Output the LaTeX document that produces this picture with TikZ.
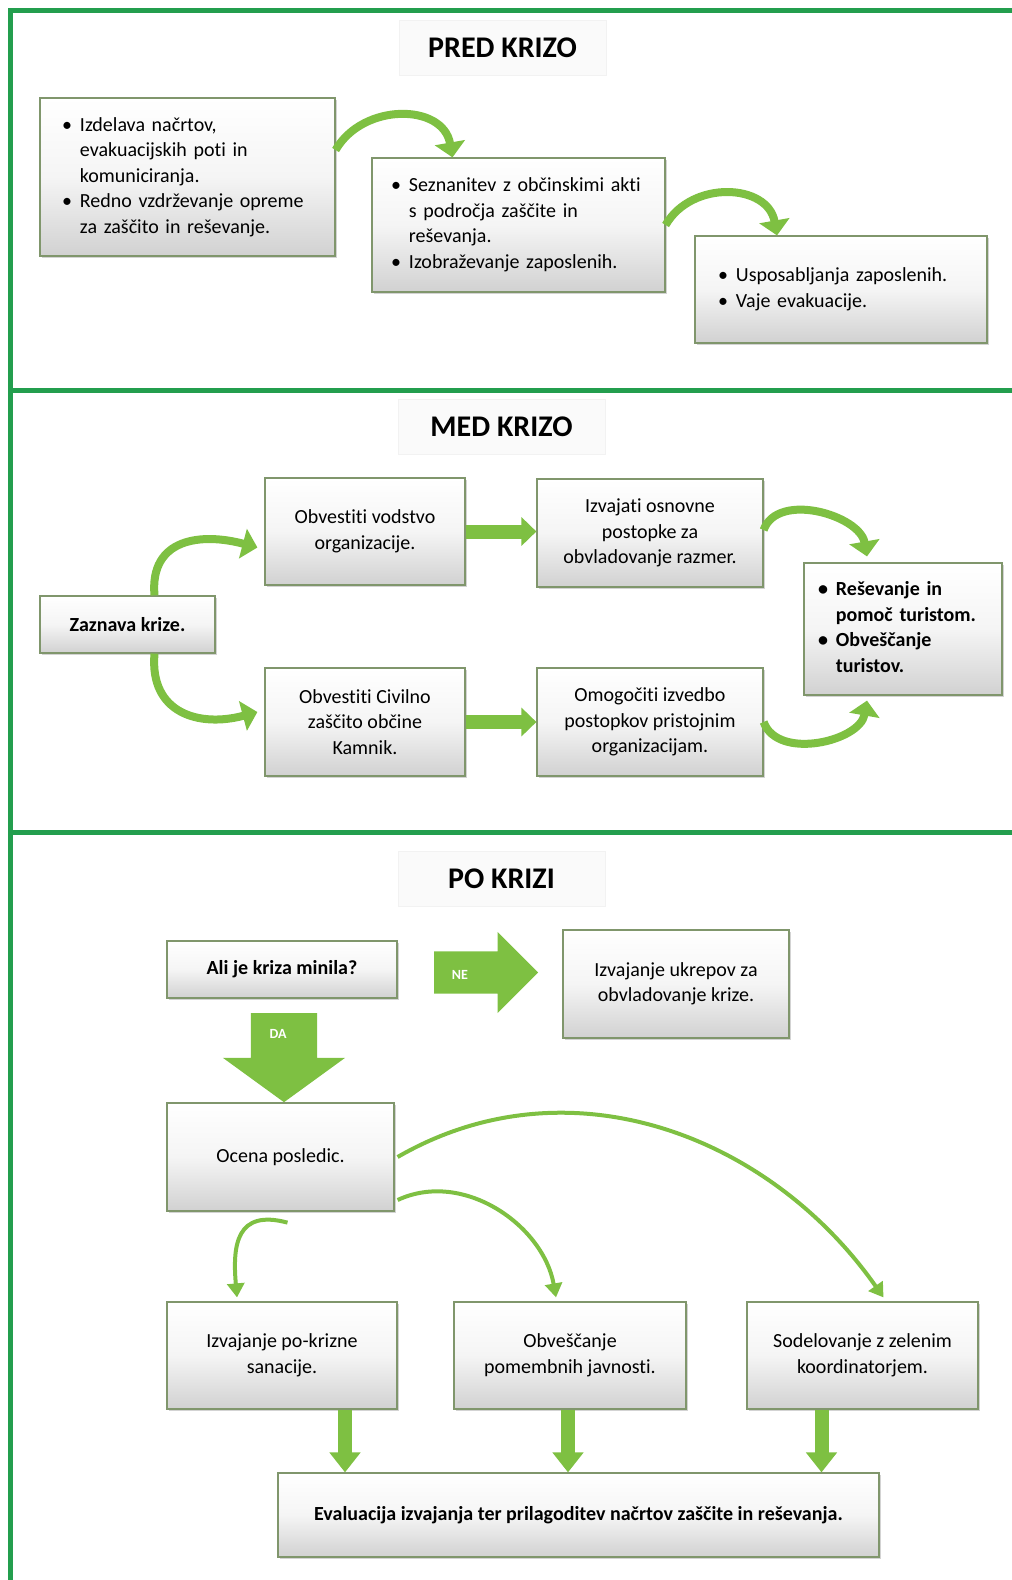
\documentclass[tikz,border=0pt]{standalone}
\usepackage{fontspec}
\setmainfont{Carlito}[Ligatures=NoCommon]
\usetikzlibrary{calc,positioning,arrows.meta,shapes.arrows,shadows}

\definecolor{framegreen}{RGB}{35,158,78}
\definecolor{arrowgreen}{RGB}{126,192,66}
\definecolor{boxedge}{RGB}{128,150,108}

\newcommand{\blist}[1]{\begin{tabular}{@{}l@{\hspace{8pt}}l@{}}#1\end{tabular}}

\begin{document}
\begin{tikzpicture}[x=1pt,y=-1pt,font=\fontsize{20}{25.5}\selectfont]

\tikzset{box/.style={draw=boxedge,line width=1.2pt,top color=white,bottom color=black!18,middle color=black!4,drop shadow={shadow xshift=1.5pt,shadow yshift=-2pt,opacity=.35},inner sep=0pt,align=center},
bulletbox/.style={box,align=left},
titlebox/.style={fill=black!2,draw=black!5,minimum width=207pt,minimum height=55pt,font=\fontsize{30}{36}\selectfont\bfseries},
frame/.style={framegreen,line width=5pt},
bigarrow/.style={arrowgreen,line width=8pt,-{Triangle[length=15pt,width=30pt]}},
fatarrow/.style={arrowgreen,line width=14pt,-{Triangle[length=15pt,width=28pt]}},
thinarrow/.style={arrowgreen,line width=4pt,-{Triangle[length=14pt,width=17pt]}},
blockarrow/.style={single arrow,fill=arrowgreen,inner xsep=0pt,single arrow tip angle=90,anchor=tail},
arrowtext/.style={text=white,font=\fontsize{14}{16}\selectfont\bfseries}}

\useasboundingbox (0,0) rectangle (1012,1580);

% Frame
\draw[frame] (10,1580) -- (10,10) -- (1012,10);
\draw[frame] (10,390) -- (1012,390);
\draw[frame] (10,832) -- (1012,832);

% Pred krizo
\node[titlebox] (t1) at (502.5,47.5) {PRED KRIZO};
\node[bulletbox,text width=251pt,inner xsep=22pt,minimum height=158pt] (a1) at (187.5,177) {\blist{\textbullet & Izdelava načrtov,\\ & evakuacijskih poti in\\ & komuniciranja.\\ \textbullet & Redno vzdrževanje opreme\\ & za zaščito in reševanje.}};
\node[bulletbox,text width=255pt,inner xsep=19pt,minimum height=134pt] (a2) at (518.5,225) {\blist{\textbullet & Seznanitev z občinskimi akti\\ & s področja zaščite in\\ & reševanja.\\ \textbullet & Izobraževanje zaposlenih.}};
\node[bulletbox,text width=246pt,inner xsep=23pt,minimum height=107pt] (a3) at (841,289.5) {\blist{\textbullet & Usposabljanja zaposlenih.\\ \textbullet & Vaje evakuacije.}};

\draw[bigarrow] ([yshift=27pt]a1.east) to[out=60,in=100,looseness=1.2] ([xshift=-66pt]a2.north);
\draw[bigarrow] (a2.east) to[out=60,in=100,looseness=1.2] ([xshift=-64pt]a3.north);

% Med krizo
\node[titlebox] (t2) at (501.5,426.5) {MED KRIZO};
\node[box,minimum width=175pt,minimum height=57pt,font=\fontsize{20}{25.5}\selectfont\bfseries] (m0) at (127.5,624.5) {Zaznava krize.};
\node[box,minimum width=200pt,minimum height=107pt] (m1) at (365,531.5) {Obvestiti vodstvo\\organizacije.};
\node[box,minimum width=200pt,minimum height=108pt] (m2) at (365,722) {Obvestiti Civilno\\zaščito občine\\Kamnik.};
\node[box,minimum width=226pt,minimum height=108pt] (m3) at (650,533) {Izvajati osnovne\\postopke za\\obvladovanje razmer.};
\node[box,minimum width=226pt,minimum height=108pt] (m4) at (650,722) {Omogočiti izvedbo\\postopkov pristojnim\\organizacijam.};
\node[bulletbox,text width=170pt,inner xsep=14pt,minimum height=132pt,font=\fontsize{20}{25.5}\selectfont\bfseries] (m5) at (903,629) {\blist{\textbullet & Reševanje in\\ & pomoč turistom.\\ \textbullet & Obveščanje\\ & turistov.}};

\draw[bigarrow] ([xshift=27pt]m0.north) to[out=95,in=165,looseness=1.3] ([xshift=-7pt,yshift=-16pt]m1.west);
\draw[bigarrow] ([xshift=27pt]m0.south) to[out=-95,in=195,looseness=1.3] ([xshift=-7pt,yshift=10pt]m2.west);
\draw[fatarrow] (m1.east) -- (m1.east -| m3.west); \draw[fatarrow] (m2.east) -- (m2.east -| m4.west);
\draw[bigarrow] ([yshift=3pt]m3.east) to[out=70,in=100] ([xshift=-36pt,yshift=6pt]m5.north);
\draw[bigarrow] (m4.east) to[out=-70,in=-100] ([xshift=-36pt,yshift=-5pt]m5.south);

% Po krizi
\node[titlebox] (t3) at (501.5,878.5) {PO KRIZI};
\node[box,minimum width=230pt,minimum height=57pt,font=\fontsize{20}{25.5}\selectfont\bfseries] (p0) at (282,969.5) {Ali je kriza minila?};
\node[box,minimum width=226pt,minimum height=108pt] (p1) at (676,984) {Izvajanje ukrepov za\\obvladovanje krize.};
\node[box,minimum width=227pt,minimum height=108pt] (p2) at (280.5,1157) {Ocena posledic.};
\node[box,minimum width=230pt,minimum height=107pt] (p3) at (282,1355.5) {Izvajanje po-krizne\\sanacije.};
\node[box,minimum width=232pt,minimum height=107pt] (p4) at (570,1355.5) {Obveščanje\\pomembnih javnosti.};
\node[box,minimum width=231pt,minimum height=107pt] (p5) at (862.5,1355.5) {Sodelovanje z zelenim\\koordinatorjem.};
\node[box,minimum width=601pt,minimum height=84pt,font=\fontsize{20}{25.5}\selectfont\bfseries] (p6) at (578.5,1515) {Evaluacija izvajanja ter prilagoditev načrtov zaščite in reševanja.};

% Block arrows
\node[blockarrow,minimum height=104pt,inner ysep=21pt,single arrow head extend=19.5pt] (ne) at (434,972.5) {};
\node[blockarrow,rotate=-90,minimum height=89pt,inner ysep=33pt,single arrow head extend=28pt,single arrow tip angle=108] (da) at (284,1013) {};
\node[arrowtext] (nelbl) at (460,975) {NE};
\node[arrowtext] (dalbl) at (278,1034) {DA};

\draw[thinarrow] ([xshift=7pt,yshift=-11pt]p2.south) to[out=165,in=95,looseness=1.5] ([xshift=-45pt,yshift=4pt]p3.north);
\draw[thinarrow] ([xshift=3pt,yshift=-43pt]p2.east) to[out=25,in=100] ([xshift=-14pt,yshift=4pt]p4.north);
\draw[thinarrow] ([xshift=3pt]p2.east) to[out=30,in=125] ([xshift=21pt,yshift=4pt]p5.north);

\coordinate (d1) at ([xshift=63pt]p3.south); \coordinate (d2) at ([xshift=-2pt]p4.south); \coordinate (d3) at ([xshift=-41pt]p5.south);
\foreach \d in {d1,d2,d3} \draw[fatarrow,-{Triangle[length=20pt,width=30pt]}] (\d) -- (\d |- p6.north);

\end{tikzpicture}
\end{document}
